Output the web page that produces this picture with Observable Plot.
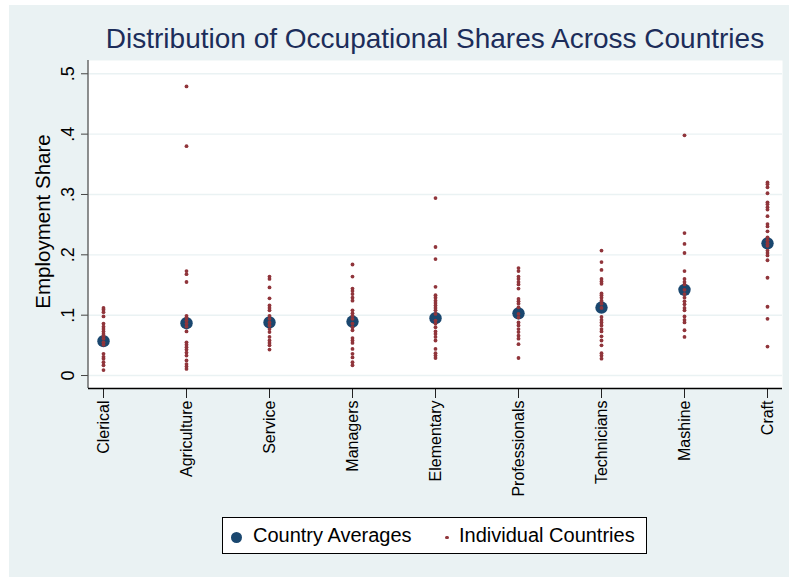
<!DOCTYPE html>
<html>
<head>
<meta charset="utf-8">
<script src="https://cdn.jsdelivr.net/npm/d3@7"></script>
<script src="https://cdn.jsdelivr.net/npm/@observablehq/plot@0.6"></script>
<style>
  html, body { margin: 0; padding: 0; background: #ffffff; }
  #wrap { position: relative; width: 789px; height: 577px; overflow: hidden; font-family: "Liberation Sans", Arial, sans-serif; background: #ffffff; }
  #bg { position: absolute; left: 9px; top: 5px; right: 0; bottom: 0; background: #eaf2f3; }
  #chart { position: absolute; left: 0; top: 0; }
  #title { position: absolute; left: 88px; width: 694px; top: 22.6px; line-height: 32px; text-align: center; font-size: 28px; color: #1c2d5a; white-space: nowrap; }
  #legend { position: absolute; left: 222px; top: 517px; width: 423px; height: 35px; background: white; border: 1px solid #000; font-size: 20px; color: #000; }
  #legend .item { position: absolute; top: 0; line-height: 35px; white-space: nowrap; }
  #legend .dot { position: absolute; border-radius: 50%; }
</style>
</head>
<body>
<div id="wrap">
  <div id="bg"></div>
  <div id="chart"></div>
  <div id="title">Distribution of Occupational Shares Across Countries</div>
  <div id="legend">
    <span class="dot" style="left:8px; top:13.5px; width:11px; height:11px; background:#1a476f;"></span>
    <span class="item" style="left:30px;">Country Averages</span>
    <span class="dot" style="left:222px; top:17.5px; width:3.6px; height:3.6px; background:#90353b;"></span>
    <span class="item" style="left:236px;">Individual Countries</span>
  </div>
</div>
<script>
const categories = ["Clerical", "Agriculture", "Service", "Managers", "Elementary", "Professionals", "Technicians", "Mashine", "Craft"];
const averages = [0.057, 0.0867, 0.088, 0.0895, 0.095, 0.103, 0.1127, 0.142, 0.219];

const clerical = [0.112, 0.109, 0.105, 0.098, 0.086, 0.081, 0.077, 0.073, 0.069, 0.065, 0.061, 0.055, 0.051, 0.036, 0.031, 0.028, 0.022, 0.017, 0.009];
const agriculture = [0.479, 0.380, 0.173, 0.168, 0.155, 0.099, 0.096, 0.091, 0.086, 0.081, 0.073, 0.055, 0.051, 0.047, 0.043, 0.038, 0.033, 0.025, 0.019, 0.015, 0.011];
const service = [0.164, 0.160, 0.146, 0.128, 0.116, 0.112, 0.108, 0.099, 0.094, 0.088, 0.083, 0.077, 0.072, 0.064, 0.058, 0.054, 0.050, 0.043];
const managers = [0.184, 0.164, 0.144, 0.140, 0.135, 0.129, 0.124, 0.108, 0.103, 0.099, 0.094, 0.086, 0.080, 0.075, 0.062, 0.058, 0.054, 0.044, 0.036, 0.030, 0.022, 0.017];
const elementary = [0.294, 0.213, 0.193, 0.147, 0.133, 0.129, 0.124, 0.120, 0.116, 0.112, 0.108, 0.102, 0.091, 0.086, 0.080, 0.073, 0.069, 0.064, 0.058, 0.044, 0.037, 0.033, 0.029];
const professionals = [0.178, 0.173, 0.164, 0.160, 0.155, 0.151, 0.144, 0.127, 0.123, 0.119, 0.113, 0.102, 0.096, 0.088, 0.083, 0.077, 0.072, 0.066, 0.061, 0.052, 0.029];
const technicians = [0.207, 0.188, 0.175, 0.160, 0.156, 0.152, 0.136, 0.133, 0.129, 0.124, 0.119, 0.112, 0.097, 0.092, 0.088, 0.083, 0.077, 0.073, 0.065, 0.058, 0.050, 0.037, 0.033, 0.028];
const mashine = [0.398, 0.236, 0.218, 0.203, 0.173, 0.160, 0.155, 0.151, 0.142, 0.135, 0.129, 0.123, 0.118, 0.112, 0.108, 0.098, 0.092, 0.088, 0.075, 0.064];
const craft = [0.320, 0.317, 0.312, 0.302, 0.287, 0.284, 0.279, 0.275, 0.264, 0.251, 0.247, 0.239, 0.229, 0.224, 0.219, 0.215, 0.207, 0.203, 0.199, 0.191, 0.162, 0.114, 0.094, 0.048];

const yTicks = [0, 0.1, 0.2, 0.3, 0.4, 0.5];
const yTickLabels = ["0", ".1", ".2", ".3", ".4", ".5"];
const yLabel = "Employment Share";

const series = [clerical, agriculture, service, managers, elementary, professionals, technicians, mashine, craft];
const individuals = categories.flatMap((c, i) => series[i].map(v => ({cat: c, v})));
const avgData = categories.map((c, i) => ({cat: c, v: averages[i]}));
const yDomain = [-0.0215, 0.522];

const leftLine = (index, scales, values, dimensions) => {
  const x = dimensions.marginLeft;
  return d3.create("svg:line")
    .attr("x1", x).attr("x2", x)
    .attr("y1", dimensions.marginTop).attr("y2", dimensions.height - dimensions.marginBottom)
    .attr("stroke", "#555").attr("stroke-width", 1.3).node();
};

const chart = Plot.plot({
  width: 789,
  height: 577,
  marginLeft: 88,
  marginRight: 7,
  marginTop: 60,
  marginBottom: 189,
  style: {background: "transparent", fontFamily: "Liberation Sans, Arial, sans-serif", color: "#000"},
  x: {type: "point", domain: categories, padding: 0.15},
  y: {domain: yDomain},
  marks: [
    Plot.frame({fill: "white", stroke: null}),
    Plot.gridY(yTicks, {stroke: "#eaf2f3", strokeOpacity: 1, strokeWidth: 1.4}),
    Plot.axisY({ticks: yTicks, tickSize: 7, tickFormat: () => "", label: null, stroke: "#444"}),
    Plot.axisX({tickSize: 10, tickFormat: () => "", label: null, stroke: "#222"}),
    Plot.text(yTicks, {y: d => d, text: (d, i) => yTickLabels[i], frameAnchor: "left", dx: -20, rotate: -90, textAnchor: "middle", lineAnchor: "middle", fontSize: 18, fill: "#000"}),
    Plot.text([yLabel], {frameAnchor: "left", dx: -45, dy: -3, rotate: -90, textAnchor: "middle", lineAnchor: "middle", fontSize: 20.5, fill: "#000"}),
    Plot.text(categories, {x: d => d, frameAnchor: "bottom", dy: 12, rotate: -90, textAnchor: "end", lineAnchor: "middle", fontSize: 16, fill: "#000"}),
    leftLine,
    Plot.ruleY([yDomain[0]], {stroke: "#000", strokeWidth: 1.3}),
    Plot.dot(avgData, {x: "cat", y: "v", r: 6.2, fill: "#1a476f", stroke: null}),
    Plot.dot(individuals, {x: "cat", y: "v", r: 1.9, fill: "#90353b", stroke: null})
  ]
});
document.getElementById("chart").appendChild(chart);
</script>
</body>
</html>
